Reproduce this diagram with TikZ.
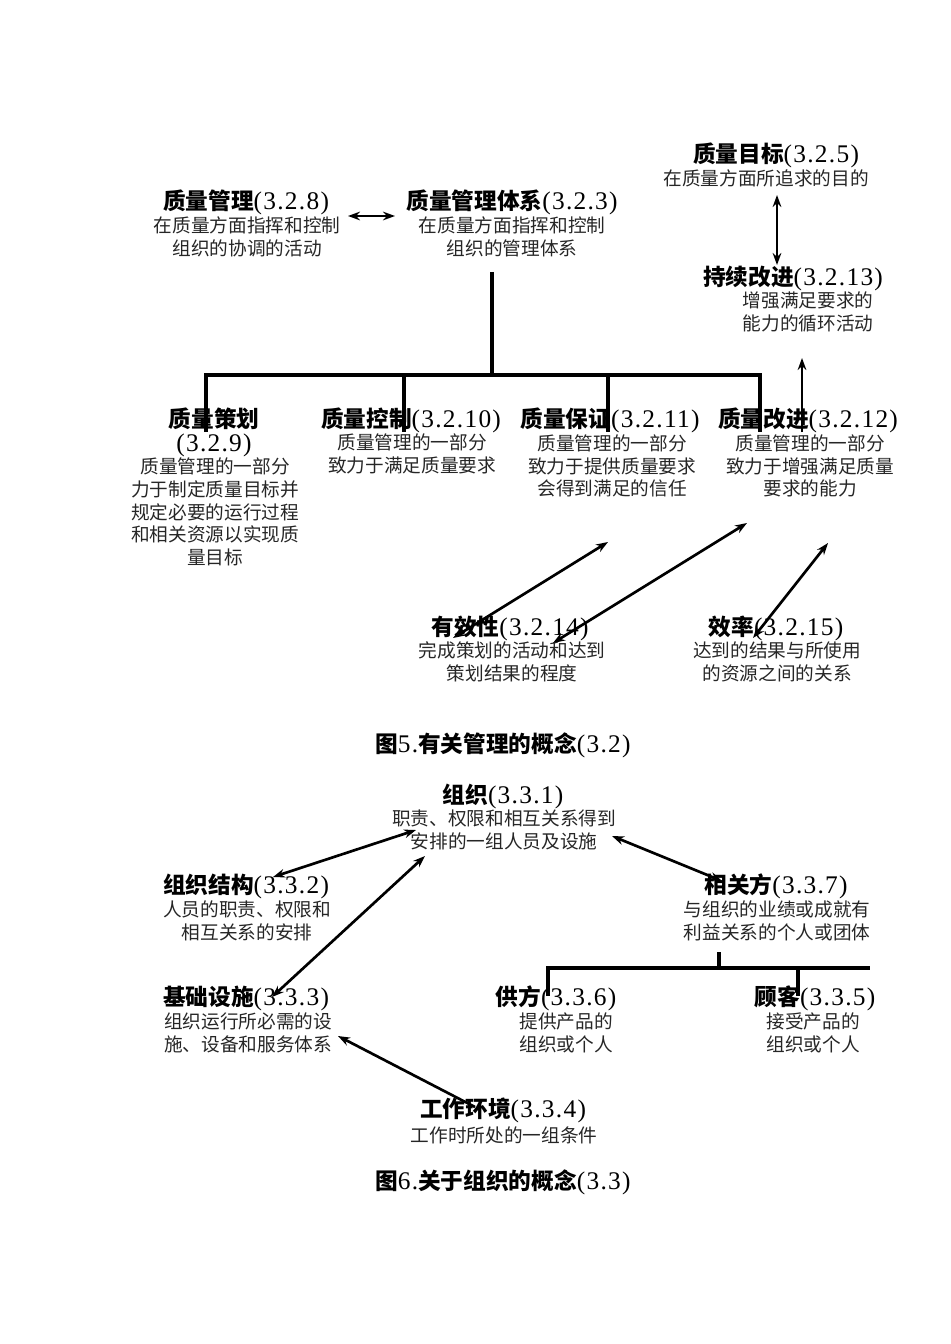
\documentclass[tikz,border=0pt]{standalone}
\usepackage{fontspec}
\setmainfont{Liberation Serif}
\newfontfamily\cjk{Noto Sans CJK SC}
\newfontfamily\numf[LetterSpace=5,Scale=1.12]{Liberation Serif}
\usepackage{tikz}
\usetikzlibrary{arrows.meta,positioning}

\newcommand{\term}[2]{{\cjk\bfseries #1}{\numf(#2)}}

\begin{document}
\begin{tikzpicture}[x=0.75pt, y=-0.75pt,
  ttl/.style={font=\fontsize{17}{18}\selectfont, inner sep=0pt, align=center},
  dsc/.style={font=\cjk\fontsize{14}{17}\selectfont, text=black!85, inner sep=0pt, align=center},
  branch/.style={line width=2.5pt},
  conn/.style={line width=2pt, -{Stealth[length=9pt,width=6.5pt]}},
  biconn/.style={line width=2pt, {Stealth[length=9pt,width=6.5pt]}-{Stealth[length=9pt,width=6.5pt]}}]
  \useasboundingbox (0,0) rectangle (950,1344);

  % Fig. 5 -- management
  \node[ttl] (qm) at (246,202) {\term{质量管理}{3.2.8}};
  \node[dsc] (qm-d) at (247,237) {在质量方面指挥和控制\\组织的协调的活动};
  \node[ttl] (qms) at (512,202) {\term{质量管理体系}{3.2.3}};
  \node[dsc] (qms-d) at (512,237) {在质量方面指挥和控制\\组织的管理体系};
  \node[ttl] (goal) at (776,155) {\term{质量目标}{3.2.5}};
  \node[dsc] (goal-d) at (766,178) {在质量方面所追求的目的};
  \node[ttl] (ci) at (793,278) {\term{持续改进}{3.2.13}};
  \node[dsc] (ci-d) at (808,312) {增强满足要求的\\能力的循环活动};

  \node[ttl, font=\fontsize{17}{18}\selectfont] (plan) at (214,432) {{\cjk\bfseries 质量策划}\\{\numf(3.2.9)}};
  \node[dsc] (plan-d) at (215,512) {质量管理的一部分\\力于制定质量目标并\\规定必要的运行过程\\和相关资源以实现质\\量目标};
  \node[ttl] (ctrl) at (411,420) {\term{质量控制}{3.2.10}};
  \node[dsc] (ctrl-d) at (412,454) {质量管理的一部分\\致力于满足质量要求};
  \node[ttl] (qa) at (610,420) {\term{质量保证}{3.2.11}};
  \node[dsc] (qa-d) at (612,466) {质量管理的一部分\\致力于提供质量要求\\会得到满足的信任};
  \node[ttl] (imp) at (808,420) {\term{质量改进}{3.2.12}};
  \node[dsc] (imp-d) at (810,466) {质量管理的一部分\\致力于增强满足质量\\要求的能力};

  \node[ttl] (eff) at (510,628) {\term{有效性}{3.2.14}};
  \node[dsc] (eff-d) at (512,662) {完成策划的活动和达到\\策划结果的程度};
  \node[ttl] (effy) at (776,628) {\term{效率}{3.2.15}};
  \node[dsc] (effy-d) at (777,662) {达到的结果与所使用\\的资源之间的关系};

  \node[ttl] (fig5) at (503,745) {{\cjk\bfseries 图}{\numf 5.}{\cjk\bfseries 有关管理的概念}{\numf(3.2)}};

  % junctions, fig. 5
  \coordinate (qm-r) at (348,216);
  \coordinate (qms-l) at (395,216);
  \coordinate (stem) at (492,272);
  \coordinate (bus) at (492,375);
  \coordinate (b1) at (206,375);
  \coordinate (b2) at (404,375);
  \coordinate (b3) at (608,375);
  \coordinate (b4) at (760,375);
  \coordinate (p1) at (206,432);
  \coordinate (p2) at (404,432);
  \coordinate (p3) at (608,432);
  \coordinate (p4) at (760,432);
  \coordinate (goal-b) at (777,195);
  \coordinate (ci-t) at (777,265);
  \coordinate (imp-t) at (802,432);
  \coordinate (ci-b) at (802,358);
  \coordinate (eff-a) at (453,638);
  \coordinate (qa-b) at (608,542);
  \coordinate (eff-b) at (553,643);
  \coordinate (imp-b) at (747,523);
  \coordinate (effy-a) at (753,638);
  \coordinate (imp-c) at (828,543);

  \draw[biconn] (qm-r) -- (qms-l);
  \draw[branch] (stem) -- (bus);
  \draw[branch] (p1) -- (b1) -- (b4) -- (p4);
  \draw[branch] (b2) -- (p2);
  \draw[branch] (b3) -- (p3);
  \draw[biconn] (goal-b) -- (ci-t);
  \draw[conn] (imp-t) -- (ci-b);
  \draw[biconn] (eff-a) -- (qa-b);
  \draw[biconn] (eff-b) -- (imp-b);
  \draw[biconn] (effy-a) -- (imp-c);

  % Fig. 6 -- organization
  \node[ttl] (org) at (503,796) {\term{组织}{3.3.1}};
  \node[dsc] (org-d) at (504,830) {职责、权限和相互关系得到\\安排的一组人员及设施};
  \node[ttl] (ostr) at (246,886) {\term{组织结构}{3.3.2}};
  \node[dsc] (ostr-d) at (247,921) {人员的职责、权限和\\相互关系的安排};
  \node[ttl] (ip) at (776,886) {\term{相关方}{3.3.7}};
  \node[dsc] (ip-d) at (777,921) {与组织的业绩或成就有\\利益关系的个人或团体};
  \node[ttl] (infra) at (246,998) {\term{基础设施}{3.3.3}};
  \node[dsc, align=left] (infra-d) at (248,1033) {组织运行所必需的设\\施、设备和服务体系};
  \node[ttl] (sup) at (556,998) {\term{供方}{3.3.6}};
  \node[dsc] (sup-d) at (566,1033) {提供产品的\\组织或个人};
  \node[ttl] (cus) at (815,998) {\term{顾客}{3.3.5}};
  \node[dsc] (cus-d) at (813,1033) {接受产品的\\组织或个人};
  \node[ttl] (env) at (503,1110) {\term{工作环境}{3.3.4}};
  \node[dsc] (env-d) at (504,1135) {工作时所处的一组条件};

  \node[ttl] (fig6) at (503,1182) {{\cjk\bfseries 图}{\numf 6.}{\cjk\bfseries 关于组织的概念}{\numf(3.3)}};

  % junctions, fig. 6
  \coordinate (ostr-a) at (273,877);
  \coordinate (org-a) at (416,830);
  \coordinate (infra-a) at (272,997);
  \coordinate (org-b) at (425,856);
  \coordinate (org-c) at (612,836);
  \coordinate (ip-a) at (722,881);
  \coordinate (env-a) at (475,1107);
  \coordinate (infra-b) at (338,1036);
  \coordinate (ip-stem) at (719,952);
  \coordinate (ip-bus) at (719,968);
  \coordinate (c1) at (548,968);
  \coordinate (c2) at (798,968);
  \coordinate (c3) at (870,968);
  \coordinate (q1) at (548,996);
  \coordinate (q2) at (798,996);

  \draw[biconn] (ostr-a) -- (org-a);
  \draw[biconn] (infra-a) -- (org-b);
  \draw[biconn] (org-c) -- (ip-a);
  \draw[conn] (env-a) -- (infra-b);
  \draw[branch] (ip-stem) -- (ip-bus);
  \draw[branch] (q1) -- (c1) -- (c3);
  \draw[branch] (c2) -- (q2);
\end{tikzpicture}
\end{document}
